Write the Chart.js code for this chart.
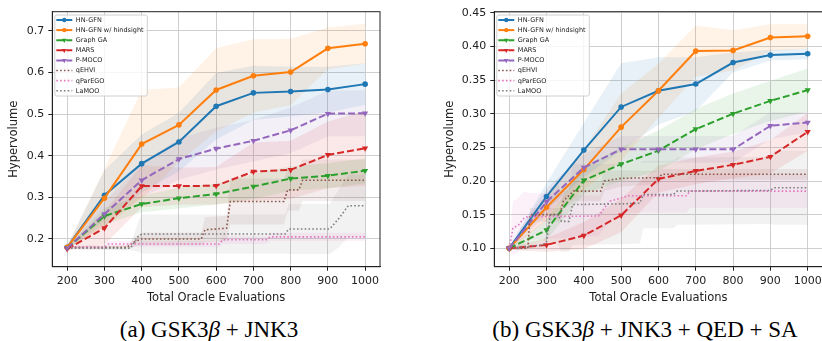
<!DOCTYPE html>
<html><head><meta charset="utf-8">
<script src="https://cdn.jsdelivr.net/npm/chart.js@4.4.0/dist/chart.umd.min.js"></script>
<style>
html,body{margin:0;padding:0;background:#fff;width:822px;height:341px;overflow:hidden;position:relative}
.w{position:absolute;top:0;width:400px;height:310px}
#wa{left:0}
#wb{left:440px}
.cap{position:absolute;top:318px;font-family:"Liberation Serif","DejaVu Serif",serif;font-size:23px;line-height:23px;white-space:nowrap;color:#000;transform:translateX(-50%)}
</style></head><body>
<div class="w" id="wa"><canvas id="ca" width="400" height="310"></canvas></div>
<div class="w" id="wb"><canvas id="cb" width="400" height="310"></canvas></div>
<div class="cap" style="left:209px">(a) GSK3<i>β</i> + JNK3</div>
<div class="cap" style="left:645px">(b) GSK3<i>β</i> + JNK3 + QED + SA</div>
<script>
// ---------- data ----------
const seriesNames = ['HN-GFN','HN-GFN w/ hindsight','Graph GA','MARS','P-MOCO','qEHVI','qParEGO','LaMOO'];
const xEvals = [200,300,400,500,600,700,800,900,1000];
const xTicks = [200,300,400,500,600,700,800,900,1000];
const xTickLabels = ['200','300','400','500','600','700','800','900','1000'];
const xTitle = 'Total Oracle Evaluations';
const yTitle = 'Hypervolume';

// panel (a)
const yTicksA = [0.2,0.3,0.4,0.5,0.6,0.7];
const yTickLabelsA = ['0.2','0.3','0.4','0.5','0.6','0.7'];
const hnA      = [0.180,0.305,0.381,0.433,0.519,0.551,0.554,0.559,0.572];
const hnA_sd   = [0.003,0.060,0.070,0.070,0.080,0.065,0.060,0.055,0.050];
const hnhA     = [0.180,0.298,0.428,0.474,0.558,0.592,0.601,0.658,0.669];
const hnhA_sd  = [0.003,0.070,0.130,0.090,0.100,0.088,0.080,0.050,0.048];
const gaA      = [0.178,0.255,0.284,0.298,0.308,0.326,0.345,0.352,0.364];
const gaA_sd   = [0.003,0.020,0.020,0.025,0.025,0.030,0.030,0.030,0.030];
const marsA    = [0.176,0.226,0.327,0.327,0.328,0.362,0.366,0.402,0.418];
const marsA_sd = [0.003,0.040,0.050,0.045,0.045,0.070,0.070,0.080,0.090];
const pmA      = [0.178,0.260,0.341,0.392,0.417,0.436,0.461,0.501,0.502];
const pmA_sd   = [0.003,0.030,0.040,0.050,0.050,0.050,0.055,0.055,0.055];
const qehviA_x  = [200,360,375,385,400,560,570,628,638,782,792,822,832,1000];
const qehviA_y  = [0.180,0.180,0.190,0.195,0.200,0.200,0.222,0.226,0.290,0.290,0.318,0.318,0.341,0.341];
const qehviA_sd = [0.003,0.005,0.010,0.012,0.015,0.015,0.030,0.030,0.055,0.055,0.050,0.050,0.050,0.050];
const qparA_x  = [200,300,310,608,618,735,745,1000];
const qparA_y  = [0.180,0.180,0.188,0.188,0.198,0.198,0.205,0.205];
const qparA_sd = [0.003,0.005,0.008,0.008,0.010,0.010,0.010,0.010];
const lamooA_x  = [200,370,390,400,785,795,905,930,955,1000];
const lamooA_y  = [0.178,0.178,0.205,0.212,0.212,0.224,0.224,0.250,0.280,0.280];
const lamooA_sd = [0.003,0.005,0.035,0.047,0.047,0.060,0.060,0.070,0.075,0.075];

// panel (b)
const yTicksB = [0.10,0.15,0.20,0.25,0.30,0.35,0.40,0.45];
const yTickLabelsB = ['0.10','0.15','0.20','0.25','0.30','0.35','0.40','0.45'];
const hnB      = [0.100,0.177,0.246,0.310,0.334,0.344,0.376,0.387,0.389];
const hnB_sd   = [0.002,0.020,0.040,0.065,0.050,0.040,0.015,0.008,0.008];
const hnhB     = [0.100,0.161,0.217,0.280,0.334,0.393,0.394,0.413,0.415];
const hnhB_sd  = [0.002,0.020,0.030,0.050,0.040,0.038,0.030,0.020,0.018];
const gaB      = [0.100,0.127,0.201,0.225,0.245,0.277,0.300,0.319,0.335];
const gaB_sd   = [0.002,0.015,0.020,0.025,0.030,0.030,0.030,0.030,0.032];
const marsB    = [0.100,0.105,0.119,0.149,0.203,0.215,0.224,0.236,0.273];
const marsB_sd = [0.002,0.010,0.020,0.025,0.020,0.020,0.020,0.025,0.028];
const pmB      = [0.100,0.169,0.220,0.247,0.247,0.247,0.247,0.282,0.287];
const pmB_sd   = [0.002,0.020,0.020,0.020,0.020,0.020,0.020,0.020,0.015];
const qehviB_x  = [200,250,256,336,345,372,445,455,500,600,610,1000];
const qehviB_y  = [0.100,0.100,0.150,0.150,0.170,0.185,0.185,0.200,0.204,0.205,0.210,0.210];
const qehviB_sd = [0.002,0.003,0.010,0.010,0.012,0.015,0.015,0.015,0.012,0.010,0.008,0.008];
const qparB_x  = [200,210,225,240,250,440,455,470,520,675,685,1000];
const qparB_y  = [0.100,0.130,0.135,0.145,0.147,0.148,0.160,0.170,0.178,0.178,0.185,0.185];
const qparB_sd = [0.002,0.040,0.040,0.040,0.035,0.030,0.030,0.030,0.025,0.025,0.025,0.025];
const lamooB_x  = [200,290,300,310,330,340,360,370,500,550,560,640,650,900,910,1000];
const lamooB_y  = [0.100,0.105,0.110,0.150,0.150,0.140,0.140,0.165,0.166,0.167,0.180,0.180,0.185,0.186,0.190,0.190];
const lamooB_sd = [0.002,0.005,0.010,0.040,0.045,0.045,0.045,0.060,0.060,0.060,0.050,0.050,0.050,0.050,0.055,0.055];

// ---------- styles ----------
const STYLE = [
  {color:'#1f77b4', dash:[],        width:2,   marker:'circle'},
  {color:'#ff7f0e', dash:[],        width:2,   marker:'circle'},
  {color:'#2ca02c', dash:[7,3],     width:2,   marker:'tri'},
  {color:'#d62728', dash:[7,3],     width:2,   marker:'tri'},
  {color:'#9467bd', dash:[7,3],     width:2,   marker:'tri'},
  {color:'#8c564b', dash:[1.6,2.2], width:1.6, marker:null},
  {color:'#e377c2', dash:[1.6,2.2], width:1.6, marker:null},
  {color:'#7f7f7f', dash:[1.6,2.2], width:1.6, marker:null}
];
const FONT = '"DejaVu Sans", sans-serif';
function rgba(hex,a){const n=parseInt(hex.slice(1),16);return `rgba(${n>>16},${(n>>8)&255},${n&255},${a})`;}
function pts(xs,ys){return xs.map((x,i)=>({x:x,y:ys[i]}));}

function buildDatasets(series){
  const ds=[];
  series.forEach((s,k)=>{
    const st=STYLE[k];
    const lo=s.y.map((v,i)=>v-s.sd[i]);
    const hi=s.y.map((v,i)=>v+s.sd[i]);
    const loIdx=ds.length;
    ds.push({data:pts(s.x,lo),borderWidth:0,pointRadius:0,fill:false,order:50,borderColor:'rgba(0,0,0,0)'});
    ds.push({data:pts(s.x,hi),borderWidth:0,pointRadius:0,fill:loIdx,order:50,borderColor:'rgba(0,0,0,0)',backgroundColor:rgba(st.color,0.1)});
  });
  series.forEach((s,k)=>{
    const st=STYLE[k];
    ds.push({
      label:seriesNames[k],data:pts(s.x,s.y),borderColor:st.color,backgroundColor:st.color,
      borderWidth:st.width,borderDash:st.dash,borderCapStyle:'butt',tension:0,fill:false,
      pointStyle:st.marker==='tri'?'triangle':'circle',pointRotation:st.marker==='tri'?180:0,
      pointRadius:st.marker===null?0:(st.marker==='tri'?3.6:2.8),pointBorderWidth:0,
      pointBackgroundColor:st.color,order:20-k
    });
  });
  return ds;
}

const framePlugin={id:'frame',afterDatasetsDraw(chart){
  const {ctx,chartArea:a}=chart;ctx.save();ctx.strokeStyle='#222';ctx.lineWidth=1;ctx.setLineDash([]);
  ctx.strokeRect(a.left,a.top,a.right-a.left,a.bottom-a.top);ctx.restore();}};

const legendPlugin={id:'mplLegend',afterDraw(chart){
  const {ctx,chartArea:a}=chart;
  const bx=a.left+2.5,by=a.top+3.3,bw=92.5,bh=81;
  ctx.save();
  ctx.beginPath();
  if(ctx.roundRect)ctx.roundRect(bx,by,bw,bh,2);else ctx.rect(bx,by,bw,bh);
  ctx.fillStyle='rgba(255,255,255,0.8)';ctx.fill();
  ctx.strokeStyle='#d0d0d0';ctx.lineWidth=1;ctx.stroke();
  seriesNames.forEach((name,i)=>{
    const st=STYLE[i];const y=a.top+8.3+i*10.1;
    ctx.strokeStyle=st.color;ctx.lineWidth=st.width;ctx.setLineDash(st.dash);ctx.lineCap='butt';
    ctx.beginPath();ctx.moveTo(a.left+4,y);ctx.lineTo(a.left+20,y);ctx.stroke();
    ctx.setLineDash([]);ctx.fillStyle=st.color;
    const cx=a.left+12;
    if(st.marker==='circle'){ctx.beginPath();ctx.arc(cx,y,2.2,0,Math.PI*2);ctx.fill();}
    else if(st.marker==='tri'){const r=2.8;ctx.beginPath();ctx.moveTo(cx-r*0.87,y-r*0.5);ctx.lineTo(cx+r*0.87,y-r*0.5);ctx.lineTo(cx,y+r);ctx.closePath();ctx.fill();}
    ctx.fillStyle='#222';ctx.font='6.5px '+FONT;ctx.textBaseline='middle';ctx.textAlign='left';
    ctx.fillText(name,a.left+23.5,y+0.3);
  });
  ctx.restore();}};

function makeChart(id,series,yMin,yMax,yTicks,yLabels,yWidth,padRight,yTitlePad){
  return new Chart(document.getElementById(id),{
    type:'line',
    data:{datasets:buildDatasets(series)},
    options:{
      responsive:false,animation:false,devicePixelRatio:1,events:[],
      layout:{padding:{top:11.7,right:padRight,left:0,bottom:0}},
      plugins:{legend:{display:false},tooltip:{enabled:false},filler:{propagate:false}},
      scales:{
        x:{type:'linear',min:160,max:1040,
          afterBuildTicks:s=>{s.ticks=xTicks.map(v=>({value:v}));},
          afterFit:s=>{s.height=43.3;},
          ticks:{autoSkip:false,maxRotation:0,padding:3.5,color:'#222',font:{family:FONT,size:11},
                 callback:(v,i)=>xTickLabels[i]},
          grid:{color:'#cfcfcf',lineWidth:1,tickColor:'#222',tickLength:4},
          border:{display:true,color:'#222',width:1},
          title:{display:true,text:xTitle,color:'#222',font:{family:FONT,size:11.5},padding:{top:0,bottom:5}}},
        y:{type:'linear',min:yMin,max:yMax,
          afterBuildTicks:s=>{s.ticks=yTicks.map(v=>({value:v}));},
          afterFit:s=>{s.width=yWidth;},
          ticks:{autoSkip:false,padding:4,color:'#222',font:{family:FONT,size:11},
                 callback:(v,i)=>yLabels[i]},
          grid:{color:'#cfcfcf',lineWidth:1,tickColor:'#222',tickLength:4},
          border:{display:true,color:'#222',width:1},
          title:{display:true,text:yTitle,color:'#222',font:{family:FONT,size:11.5},padding:{top:yTitlePad,bottom:0}}}
      }
    },
    plugins:[framePlugin,legendPlugin]
  });
}

const seriesA=[
  {x:xEvals,y:hnA,sd:hnA_sd},{x:xEvals,y:hnhA,sd:hnhA_sd},{x:xEvals,y:gaA,sd:gaA_sd},
  {x:xEvals,y:marsA,sd:marsA_sd},{x:xEvals,y:pmA,sd:pmA_sd},
  {x:qehviA_x,y:qehviA_y,sd:qehviA_sd},{x:qparA_x,y:qparA_y,sd:qparA_sd},{x:lamooA_x,y:lamooA_y,sd:lamooA_sd}
];
const seriesB=[
  {x:xEvals,y:hnB,sd:hnB_sd},{x:xEvals,y:hnhB,sd:hnhB_sd},{x:xEvals,y:gaB,sd:gaB_sd},
  {x:xEvals,y:marsB,sd:marsB_sd},{x:xEvals,y:pmB,sd:pmB_sd},
  {x:qehviB_x,y:qehviB_y,sd:qehviB_sd},{x:qparB_x,y:qparB_y,sd:qparB_sd},{x:lamooB_x,y:lamooB_y,sd:lamooB_sd}
];
makeChart('ca',seriesA,0.1334,0.746,yTicksA,yTickLabelsA,52.3,20,7);
makeChart('cb',seriesB,0.0727,0.4515,yTicksB,yTickLabelsB,54.3,17.4,3);
</script>
</body></html>
